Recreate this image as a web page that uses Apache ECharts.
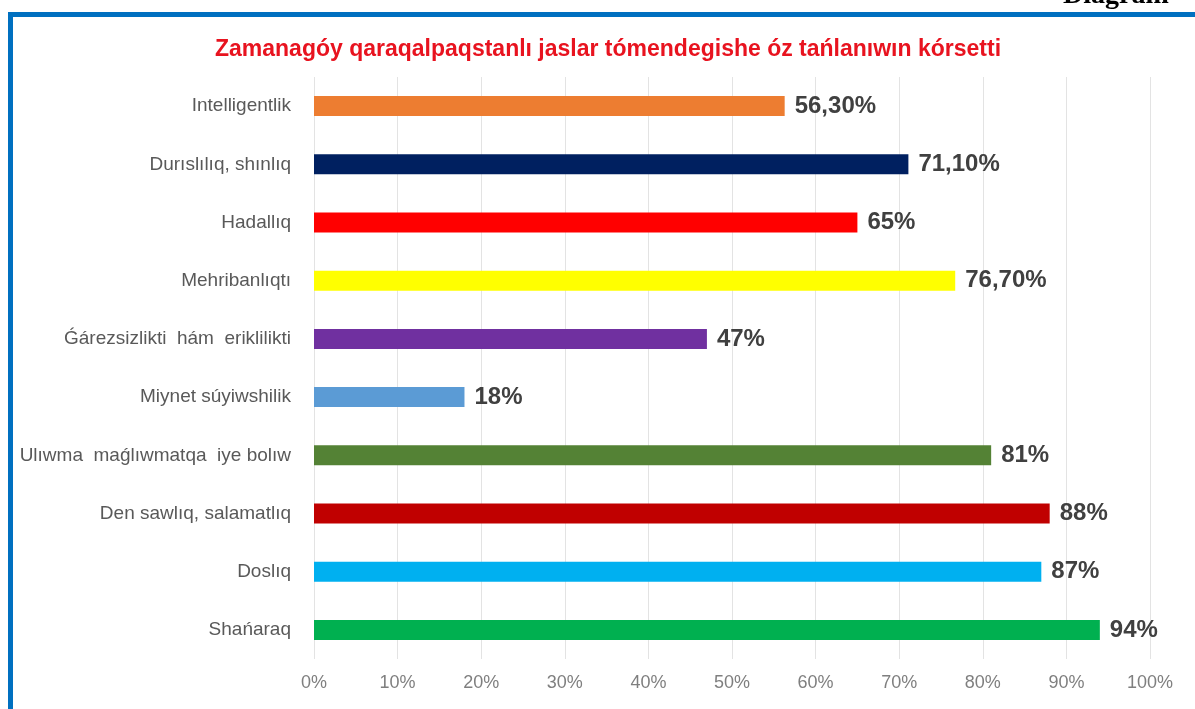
<!DOCTYPE html>
<html>
<head>
<meta charset="utf-8">
<script src="https://cdn.jsdelivr.net/npm/echarts@6/dist/echarts.min.js"></script>
<style>
html,body{margin:0;padding:0;background:#fff;}
#chart{width:1195px;height:709px;}
</style>
</head>
<body>
<div id="chart"></div>
<script>
const categories = [
  "Intelligentlik",
  "Durıslılıq, shınlıq",
  "Hadallıq",
  "Mehribanlıqtı",
  "Ǵárezsizlikti  hám  eriklilikti",
  "Miynet súyiwshilik",
  "Ulıwma  maǵlıwmatqa  iye bolıw",
  "Den sawlıq, salamatlıq",
  "Doslıq",
  "Shańaraq"
];
const values = [56.3, 71.1, 65, 76.7, 47, 18, 81, 88, 87, 94];
const valueLabels = ["56,30%", "71,10%", "65%", "76,70%", "47%", "18%", "81%", "88%", "87%", "94%"];
const barColors = ["#ED7D31", "#002060", "#FF0000", "#FFFF00", "#7030A0", "#5B9BD5", "#548235", "#C00000", "#00B0F0", "#00B050"];
const titleText = "Zamanagóy qaraqalpaqstanlı jaslar tómendegishe óz tańlanıwın kórsetti";
const cornerText = "Diagram";

const chart = echarts.init(document.getElementById('chart'));
chart.setOption({
  animation: false,
  backgroundColor: '#fff',
  title: {
    text: titleText,
    left: 603,
    textAlign: 'center',
    top: 33,
    textStyle: {
      color: '#E8131F',
      fontFamily: 'Liberation Sans, Arial, sans-serif',
      fontWeight: 'bold',
      fontSize: 23
    }
  },
  graphic: [
    { type: 'rect', shape: { x: 8, y: 12, width: 1187, height: 5 }, style: { fill: '#0070C0' }, silent: true },
    { type: 'rect', shape: { x: 8, y: 12, width: 5, height: 697 }, style: { fill: '#0070C0' }, silent: true },
    { type: 'text', left: 1063, top: -18, style: { text: cornerText, fill: '#000', font: 'bold 28px "Liberation Serif", "Times New Roman", serif' }, silent: true }
  ],
  grid: { left: 314, right: 45, top: 77, bottom: 50 },
  xAxis: {
    type: 'value',
    min: 0,
    max: 100,
    interval: 10,
    axisLine: { show: false },
    axisTick: { show: false },
    splitLine: { show: true, lineStyle: { color: '#E3E3E3', width: 1 } },
    axisLabel: {
      formatter: '{value}%',
      color: '#7F7F7F',
      fontSize: 18,
      fontFamily: 'Liberation Sans, Arial, sans-serif',
      margin: 15
    }
  },
  yAxis: {
    type: 'category',
    data: categories,
    inverse: true,
    axisLine: { show: false },
    axisTick: { show: false },
    axisLabel: {
      color: '#595959',
      fontSize: 19,
      fontFamily: 'Liberation Sans, Arial, sans-serif',
      margin: 23
    }
  },
  series: [{
    type: 'bar',
    barWidth: 20,
    data: values.map((v, i) => ({ value: v, itemStyle: { color: barColors[i] } })),
    label: {
      show: true,
      position: 'right',
      distance: 10,
      formatter: p => valueLabels[p.dataIndex],
      color: '#404040',
      fontSize: 24,
      fontWeight: 'bold',
      fontFamily: 'Liberation Sans, Arial, sans-serif'
    }
  }]
});
</script>
</body>
</html>
